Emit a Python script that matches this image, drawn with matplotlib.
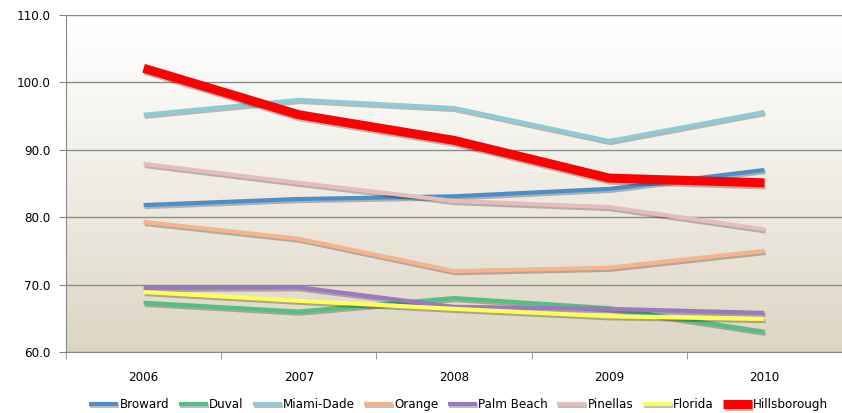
import matplotlib.pyplot as plt
import matplotlib.patheffects as pe
import numpy as np

years = ['2006', '2007', '2008', '2009', '2010']
broward = [81.8, 82.7, 83.1, 84.2, 87.0]
duval = [67.3, 66.0, 68.0, 66.5, 63.0]
miami_dade = [95.2, 97.4, 96.2, 91.3, 95.6]
orange = [79.3, 76.8, 72.0, 72.5, 75.0]
palm_beach = [69.5, 69.6, 66.7, 66.4, 65.8]
pinellas = [87.9, 85.1, 82.4, 81.5, 78.2]
florida = [68.9, 67.6, 66.4, 65.3, 64.9]
hillsborough = [102.1, 95.2, 91.4, 85.8, 85.1]

series = [
    ('Broward', broward, '#4a8fcb', 3.0),
    ('Duval', duval, '#52c07f', 3.0),
    ('Miami-Dade', miami_dade, '#8ecbd8', 3.0),
    ('Orange', orange, '#f6b488', 3.0),
    ('Palm Beach', palm_beach, '#9a78c2', 3.0),
    ('Pinellas', pinellas, '#e8bcbb', 3.0),
    ('Florida', florida, '#ffff55', 3.0),
    ('Hillsborough', hillsborough, '#ff0000', 6.5),
]

plt.rcParams['font.family'] = ['DejaVu Sans']
plt.rcParams['font.stretch'] = 'condensed'

fig = plt.figure(figsize=(8.42, 4.13), dpi=100)
ax = fig.add_axes([0.0784, 0.1477, 0.9216, 0.816])

# background gradient: white at top fading to tan at the bottom
grad = np.linspace(0, 1, 256).reshape(-1, 1)
top = np.array([1.0, 1.0, 1.0])
bottom = np.array([0xdc, 0xd5, 0xc3]) / 255
img = top + (bottom - top) * grad[..., None] ** 1.2
ax.imshow(img, extent=[-0.5, 4.5, 60, 110], aspect='auto', origin='upper', zorder=0)

x = np.arange(len(years))
for name, vals, color, lw in series:
    ax.plot(x, vals, color=color, lw=lw, label=name, solid_capstyle='butt', zorder=3,
            path_effects=[pe.SimpleLineShadow(offset=(0.8, -1.5), alpha=0.25), pe.Normal()])

ax.set_xlim(-0.5, 4.5)
ax.set_ylim(60, 110)
ax.set_yticks(np.arange(60, 111, 10))
ax.set_yticklabels(['%.1f' % v for v in np.arange(60, 111, 10)], fontsize=9.5)
ax.set_xticks(x)
ax.set_xticklabels(years, fontsize=9.5)
ax.set_xticks(np.arange(-0.5, 4.6, 1), minor=True)
ax.tick_params(axis='x', which='major', length=0, pad=14)
ax.tick_params(axis='x', which='minor', length=5, color='#888888')
ax.tick_params(axis='y', length=5, color='#888888', pad=6)
ax.grid(axis='y', color='#8c8c8c', lw=1.0, zorder=1)

for s in ['top', 'right']:
    ax.spines[s].set_visible(False)
for s in ['left', 'bottom']:
    ax.spines[s].set_color('#888888')

fig.legend(*ax.get_legend_handles_labels(), loc='center', bbox_to_anchor=(0.545, 0.02),
           ncol=8, frameon=False, fontsize=9.5, handlelength=2.2, handletextpad=0.1,
           columnspacing=0.7, borderpad=0)

plt.savefig('out.png', dpi=100)
